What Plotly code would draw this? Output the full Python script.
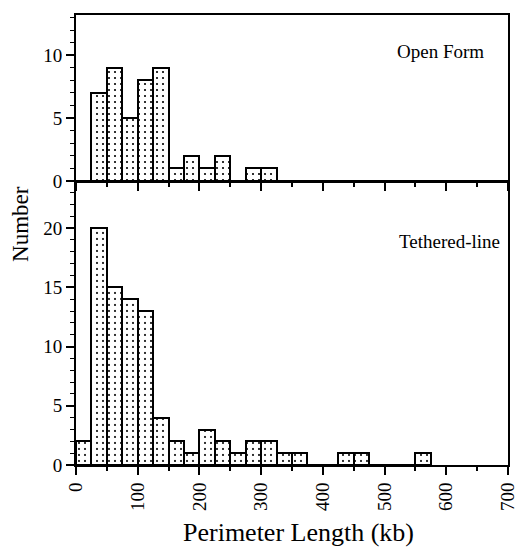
import plotly.graph_objects as go

# bin left edges (kb), 25 kb bins
bin_left = [0, 25, 50, 75, 100, 125, 150, 175, 200, 225, 250, 275, 300, 325, 350,
            375, 400, 425, 450, 475, 500, 525, 550]
open_form = [0, 7, 9, 5, 8, 9, 1, 2, 1, 2, 0, 1, 1, 0, 0,
             0, 0, 0, 0, 0, 0, 0, 0]
tethered = [2, 20, 15, 14, 13, 4, 2, 1, 3, 2, 1, 2, 2, 1, 1,
            0, 0, 1, 1, 0, 0, 0, 1]
bin_width = 25
x_ticks = [0, 100, 200, 300, 400, 500, 600, 700]

centers = [b + bin_width / 2 for b in bin_left]
FONT = "Liberation Serif"

pattern = dict(shape=".", fgcolor="black", bgcolor="white", size=6, solidity=0.1,
               fillmode="replace")

fig = go.Figure()
fig.add_trace(go.Bar(x=centers, y=open_form, width=bin_width, xaxis="x2", yaxis="y2",
                     marker=dict(color="white", line=dict(color="black", width=2),
                                 pattern=pattern), showlegend=False))
fig.add_trace(go.Bar(x=centers, y=tethered, width=bin_width, xaxis="x", yaxis="y",
                     marker=dict(color="white", line=dict(color="black", width=2),
                                 pattern=pattern), showlegend=False))

axis_common = dict(showgrid=False, zeroline=False, showline=True, linecolor="black",
                   linewidth=2, ticks="outside", tickcolor="black", tickwidth=1.5,
                   tickfont=dict(family=FONT, size=19, color="black"))

fig.update_layout(
    width=529, height=550,
    margin=dict(l=76, r=21, t=15, b=85),
    paper_bgcolor="white", plot_bgcolor="white",
    font=dict(family=FONT, color="black"),
    bargap=0,
    xaxis=dict(axis_common, domain=[0, 1], range=[0, 700], tickvals=x_ticks,
               ticklen=8, tickangle=-90, mirror=True, anchor="y",
               minor=dict(dtick=50, tick0=0, ticks="outside", ticklen=4,
                          tickcolor="black", tickwidth=1.5)),
    yaxis=dict(axis_common, domain=[0, 0.629], range=[0, 23.9], tickvals=[0, 5, 10, 15, 20],
               ticklen=8, mirror=True, anchor="x",
               minor=dict(dtick=1, tick0=0, ticks="outside", ticklen=4,
                          tickcolor="black", tickwidth=1.2)),
    xaxis2=dict(axis_common, domain=[0, 1], range=[0, 700], tickvals=x_ticks,
                showticklabels=False, ticklen=8, mirror=True, anchor="y2",
                minor=dict(dtick=50, tick0=0, ticks="outside", ticklen=4,
                           tickcolor="black", tickwidth=1.5)),
    yaxis2=dict(axis_common, domain=[0.631, 1], range=[0, 13.2], tickvals=[0, 5, 10],
                ticklen=8, mirror=True, anchor="x2",
                minor=dict(dtick=1, tick0=0, ticks="outside", ticklen=4,
                           tickcolor="black", tickwidth=1.2)),
    annotations=[
        dict(text="Open Form", x=0.949, y=0.918, xref="paper", yref="paper",
             xanchor="right", yanchor="middle", showarrow=False,
             font=dict(family=FONT, size=19, color="black")),
        dict(text="Tethered-line", x=0.986, y=0.496, xref="paper", yref="paper",
             xanchor="right", yanchor="middle", showarrow=False,
             font=dict(family=FONT, size=19, color="black")),
        dict(text="Number", x=-0.128, y=0.535, xref="paper", yref="paper",
             xanchor="center", yanchor="middle", textangle=-90, showarrow=False,
             font=dict(family=FONT, size=23, color="black")),
        dict(text="Perimeter Length (kb)", x=0.516, y=-0.151, xref="paper", yref="paper",
             xanchor="center", yanchor="middle", showarrow=False,
             font=dict(family=FONT, size=26, color="black")),
    ],
)

fig.write_html("out.html")
